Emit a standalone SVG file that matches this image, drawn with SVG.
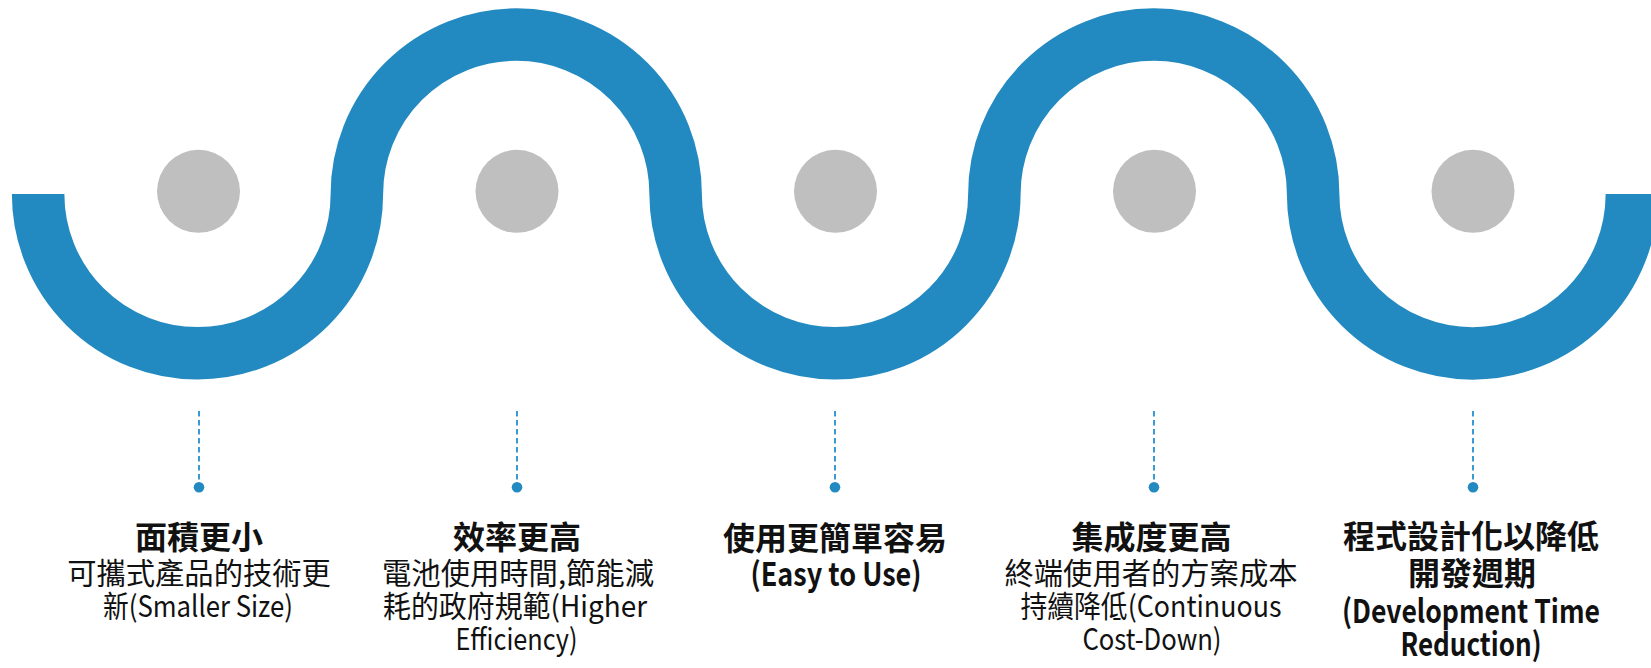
<svg xmlns="http://www.w3.org/2000/svg" width="1651" height="668" viewBox="0 0 1651 668">
<defs>
<style>
.wave{fill:none;stroke:#228ac0;stroke-width:52.5;stroke-linecap:butt}
.knob{fill:#bfbfbf}
.dash{stroke:#3a9ad2;stroke-width:2;stroke-dasharray:5.5 3.5}
.dot{fill:#228ac0}
text{font-family:"Noto Sans CJK TC","Noto Sans CJK SC",sans-serif;fill:#111;text-anchor:middle}
.t{font-size:32px;font-weight:700}
.b{font-size:29.3px;font-weight:400}
</style>
</defs>
<rect width="1651" height="668" fill="#fff"/>
<g id="connectors">
<path class="wave" d="M38.125 194 A159.375 159.375 0 0 0 356.875 194"/>
<path class="wave" d="M356.875 194 A159.375 159.375 0 0 1 675.625 194"/>
<path class="wave" d="M675.625 194 A159.375 159.375 0 0 0 994.375 194"/>
<path class="wave" d="M994.375 194 A159.375 159.375 0 0 1 1313.125 194"/>
<path class="wave" d="M1313.125 194 A159.375 159.375 0 0 0 1631.875 194"/>
<line class="dash" x1="199" y1="411" x2="199" y2="484"/>
<line class="dash" x1="517" y1="411" x2="517" y2="484"/>
<line class="dash" x1="835" y1="411" x2="835" y2="484"/>
<line class="dash" x1="1154" y1="411" x2="1154" y2="484"/>
<line class="dash" x1="1473" y1="411" x2="1473" y2="484"/>
</g>
<g id="node1">
<circle class="knob" cx="198.5" cy="191.3" r="41.5"/>
<circle class="dot" cx="199" cy="487.3" r="5.3"/>
<text class="t" x="199" y="549">面積更小</text>
<text class="b" x="199" y="584">可攜式產品的技術更</text>
<text class="b" x="198" y="617" textLength="190" lengthAdjust="spacingAndGlyphs">新(Smaller Size)</text>
</g>
<g id="node2">
<circle class="knob" cx="517" cy="191.3" r="41.5"/>
<circle class="dot" cx="517" cy="487.3" r="5.3"/>
<text class="t" x="517" y="549">效率更高</text>
<text class="b" x="518" y="584" textLength="272" lengthAdjust="spacingAndGlyphs">電池使用時間,節能減</text>
<text class="b" x="515" y="617" textLength="264" lengthAdjust="spacingAndGlyphs">耗的政府規範(Higher</text>
<text class="b" x="516.5" y="650" textLength="122" lengthAdjust="spacingAndGlyphs">Efficiency)</text>
</g>
<g id="node3">
<circle class="knob" cx="835.5" cy="191.3" r="41.5"/>
<circle class="dot" cx="835" cy="487.3" r="5.3"/>
<text class="t" x="835" y="550">使用更簡單容易</text>
<text class="t" x="836" y="586" textLength="171" lengthAdjust="spacingAndGlyphs">(Easy to Use)</text>
</g>
<g id="node4">
<circle class="knob" cx="1154.5" cy="191.3" r="41.5"/>
<circle class="dot" cx="1154" cy="487.3" r="5.3"/>
<text class="t" x="1151.5" y="549">集成度更高</text>
<text class="b" x="1151" y="584">終端使用者的方案成本</text>
<text class="b" x="1151" y="617" textLength="261" lengthAdjust="spacingAndGlyphs">持續降低(Continuous</text>
<text class="b" x="1152" y="650" textLength="139" lengthAdjust="spacingAndGlyphs">Cost-Down)</text>
</g>
<g id="node5">
<circle class="knob" cx="1473" cy="191.3" r="41.5"/>
<circle class="dot" cx="1473" cy="487.3" r="5.3"/>
<text class="t" x="1471" y="548">程式設計化以降低</text>
<text class="t" x="1472" y="585">開發週期</text>
<text class="t" x="1471" y="623" textLength="258" lengthAdjust="spacingAndGlyphs">(Development Time</text>
<text class="t" x="1471" y="656" textLength="141" lengthAdjust="spacingAndGlyphs">Reduction)</text>
</g>
</svg>
